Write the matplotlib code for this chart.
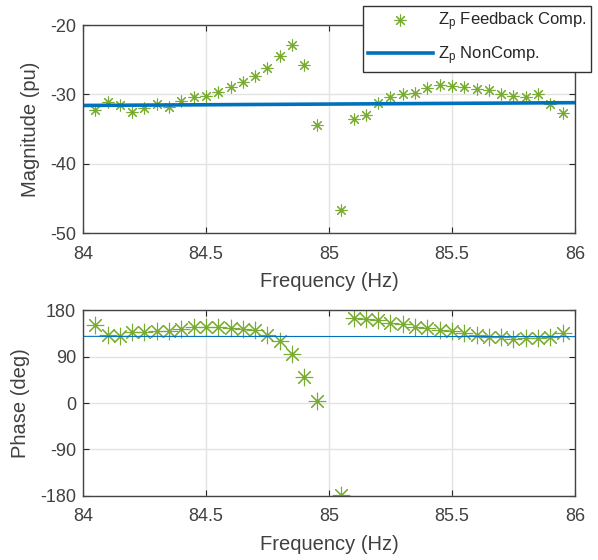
import numpy as np
import matplotlib.pyplot as plt

plt.rcParams['font.family'] = ['Liberation Sans', 'DejaVu Sans']
plt.rcParams['mathtext.fontset'] = 'custom'
plt.rcParams['mathtext.rm'] = 'Liberation Sans'
plt.rcParams['mathtext.it'] = 'Liberation Sans'
plt.rcParams['axes.unicode_minus'] = False

# measured impedance Zp, 84.05 .. 85.95 Hz (85.00 Hz missing)
freq = [84.05, 84.10, 84.15, 84.20, 84.25, 84.30, 84.35, 84.40, 84.45, 84.50,
        84.55, 84.60, 84.65, 84.70, 84.75, 84.80, 84.85, 84.90, 84.95, 85.00,
        85.05, 85.10, 85.15, 85.20, 85.25, 85.30, 85.35, 85.40, 85.45, 85.50,
        85.55, 85.60, 85.65, 85.70, 85.75, 85.80, 85.85, 85.90, 85.95]
mag_fb = [-32.3, -31.1, -31.5, -32.5, -31.9, -31.4, -31.8, -31.0, -30.4, -30.2,
          -29.7, -28.9, -28.2, -27.3, -26.2, -24.5, -22.9, -25.8, -34.4, np.nan,
          -46.7, -33.6, -33.0, -31.3, -30.4, -29.9, -29.8, -29.1, -28.6, -28.8,
          -29.0, -29.2, -29.4, -29.95, -30.3, -30.4, -30.0, -31.4, -32.7]
phase_fb = [151, 131.6, 130, 137, 137, 139.4, 139.4, 143, 146.5, 147.7,
            146.5, 145.8, 142.6, 141, 131.6, 120, 94.8, 51, 4, np.nan,
            -178, 164, 162.6, 160.6, 154, 152, 146.5, 144.6, 141.9, 139.4,
            135, 131.6, 127, 127, 124, 125, 125, 127, 135]

# uncompensated model
freq_nc = [84.0, 86.0]
mag_nc = [-31.6, -31.2]
phase_nc = [129.0, 128.5]

green = '#77AC30'
blue = '#0072BD'
axcol = '#262626'
txtcol = '#404040'
star = (8, 2, 0)

fig = plt.figure(figsize=(5.98, 5.6), dpi=100)
ax1 = fig.add_axes([0.1388, 0.5839, 0.8227, 0.3714])
ax2 = fig.add_axes([0.1388, 0.1143, 0.8227, 0.3321])

ax1.plot(freq, mag_fb, linestyle='none', marker=star, markersize=8.5,
         markeredgewidth=0.8, color=green, label='Z$_\\mathregular{p}$ Feedback Comp.')
ax1.plot(freq_nc, mag_nc, color=blue, linewidth=2.6, label='Z$_\\mathregular{p}$ NonComp.')
ax1.set_ylim(-50, -20)
ax1.set_yticks([-50, -40, -30, -20])
ax1.set_ylabel('Magnitude (pu)', fontsize=14.5, color=txtcol, labelpad=7)

ax2.plot(freq, phase_fb, linestyle='none', marker=star, markersize=12.5,
         markeredgewidth=0.8, color=green)
ax2.plot(freq_nc, phase_nc, color=blue, linewidth=0.8)
ax2.set_ylim(-180, 180)
ax2.set_yticks([-180, -90, 0, 90, 180])
ax2.set_ylabel('Phase (deg)', fontsize=14.5, color=txtcol, labelpad=7)

for ax in (ax1, ax2):
    ax.set_xlim(84, 86)
    ax.set_xticks([84, 84.5, 85, 85.5, 86])
    ax.set_xticklabels(['84', '84.5', '85', '85.5', '86'])
    ax.set_xlabel('Frequency (Hz)', fontsize=14.5, color=txtcol, labelpad=7)
    ax.grid(True, color='#e3e3e3', linewidth=1)
    ax.set_axisbelow(True)
    ax.tick_params(direction='in', top=True, right=True, length=4,
                   labelsize=13, colors=axcol, labelcolor=txtcol)
    ax.tick_params(axis='x', pad=9)
    ax.tick_params(axis='y', pad=5)
    for s in ax.spines.values():
        s.set_color('#444444')
        s.set_linewidth(1)

leg = ax1.legend(loc='upper right', bbox_to_anchor=(0.989, 0.990),
                 bbox_transform=fig.transFigure, fontsize=12, frameon=True,
                 fancybox=False, framealpha=1, edgecolor='#333333',
                 handlelength=3.9, borderpad=0.3, labelspacing=0.65,
                 handletextpad=0.3, borderaxespad=0)
leg.get_frame().set_linewidth(1)
for t in leg.get_texts():
    t.set_color('#262626')

fig.savefig('out.png', dpi=100)
